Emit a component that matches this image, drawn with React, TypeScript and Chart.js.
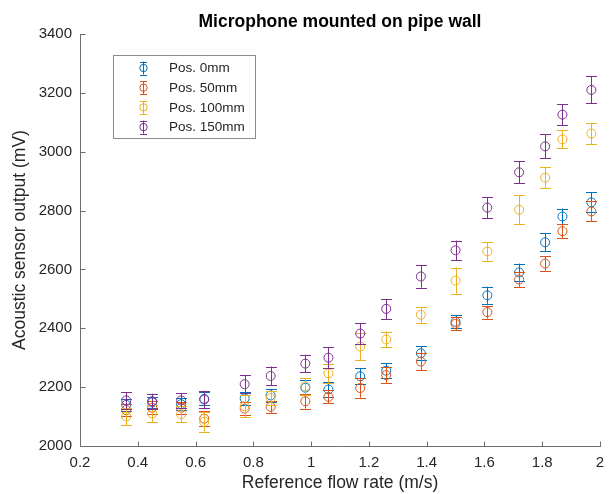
import React, { useEffect, useRef } from "react";
import { Chart, registerables } from "chart.js";

Chart.register(...registerables);

const titleText = "Microphone mounted on pipe wall";
const xLabel = "Reference flow rate (m/s)";
const yLabel = "Acoustic sensor output (mV)";

const seriesNames = ["Pos. 0mm", "Pos. 50mm", "Pos. 100mm", "Pos. 150mm"];
const seriesColors = ["#0072BD", "#D95319", "#EDB120", "#7E2F8E"];

const flowRate = [0.36, 0.45, 0.55, 0.63, 0.77, 0.86, 0.98, 1.06, 1.17, 1.26, 1.38, 1.5, 1.61, 1.72, 1.81, 1.87, 1.97];

const pos0 = [2140, 2148, 2142, 2160, 2162, 2172, 2198, 2192, 2237, 2256, 2315, 2422, 2512, 2590, 2692, 2780, 2828];
const pos50 = [2122, 2130, 2130, 2093, 2127, 2133, 2152, 2167, 2197, 2241, 2287, 2415, 2455, 2566, 2620, 2730, 2797];
const pos100 = [2100, 2110, 2108, 2082, 2135, 2163, 2203, 2247, 2338, 2362, 2446, 2562, 2661, 2803, 2912, 3042, 3062];
const pos150 = [2155, 2152, 2155, 2158, 2210, 2238, 2280, 2300, 2382, 2466, 2576, 2665, 2810, 2930, 3018, 3126, 3210];

const err0 = [20, 20, 20, 22, 22, 22, 25, 25, 28, 26, 24, 22, 29, 30, 31, 27, 34];
const err50 = [20, 22, 20, 25, 22, 20, 25, 22, 33, 26, 30, 22, 22, 25, 24, 24, 34];
const err100 = [30, 30, 28, 33, 38, 25, 28, 32, 45, 27, 27, 44, 31, 49, 35, 31, 36];
const err150 = [28, 26, 25, 30, 30, 32, 30, 36, 36, 34, 38, 33, 36, 37, 41, 36, 46];

const xTicks = [0.2, 0.4, 0.6, 0.8, 1, 1.2, 1.4, 1.6, 1.8, 2];
const yTicks = [2000, 2200, 2400, 2600, 2800, 3000, 3200, 3400];

const FONT = "'Liberation Sans', Arial, Helvetica, sans-serif";
const TEXT = "#262626";
const AXIS = "#6e6e6e";

const seriesValues = [pos0, pos50, pos100, pos150];
const seriesErrors = [err0, err50, err100, err150];

const errorBarPlugin = {
  id: "errorBars",
  afterDatasetDraw(chart: any, args: any) {
    const ds = chart.data.datasets[args.index];
    const errs: number[] = ds.errors;
    if (!errs) return;
    const ys = chart.scales.y;
    const ctx = chart.ctx;
    ctx.save();
    ctx.strokeStyle = ds.borderColor;
    ctx.lineWidth = 1;
    const cap = 5.5;
    args.meta.data.forEach((pt: any, i: number) => {
      const v = ds.data[i].y;
      const top = ys.getPixelForValue(v + errs[i]);
      const bot = ys.getPixelForValue(v - errs[i]);
      const x = Math.round(pt.x) + 0.5;
      ctx.beginPath();
      ctx.moveTo(x, top);
      ctx.lineTo(x, bot);
      ctx.moveTo(x - cap, Math.round(top) + 0.5);
      ctx.lineTo(x + cap, Math.round(top) + 0.5);
      ctx.moveTo(x - cap, Math.round(bot) + 0.5);
      ctx.lineTo(x + cap, Math.round(bot) + 0.5);
      ctx.stroke();
    });
    ctx.restore();
  },
};

const axesPlugin = {
  id: "matlabAxes",
  beforeDatasetsDraw(chart: any) {
    const { ctx, chartArea } = chart;
    const xs = chart.scales.x;
    const ys = chart.scales.y;
    const left = Math.round(chartArea.left) + 0.5;
    const bottom = Math.round(chartArea.bottom) + 0.5;
    ctx.save();
    ctx.strokeStyle = AXIS;
    ctx.lineWidth = 1;
    ctx.beginPath();
    ctx.moveTo(left, Math.round(chartArea.top));
    ctx.lineTo(left, bottom);
    ctx.lineTo(Math.round(chartArea.right) + 1, bottom);
    const tl = 5;
    xs.ticks.forEach((t: any) => {
      const px = Math.round(xs.getPixelForValue(t.value)) + 0.5;
      ctx.moveTo(px, bottom);
      ctx.lineTo(px, bottom - tl);
    });
    ys.ticks.forEach((t: any) => {
      const py = Math.round(ys.getPixelForValue(t.value)) + 0.5;
      ctx.moveTo(left, py);
      ctx.lineTo(left + tl, py);
    });
    ctx.stroke();
    // title centred over the plot area
    ctx.fillStyle = "#000000";
    ctx.font = `bold 17.5px ${FONT}`;
    ctx.textAlign = "center";
    ctx.textBaseline = "alphabetic";
    ctx.fillText(titleText, (chartArea.left + chartArea.right) / 2, 27);
    ctx.restore();
  },
};

const legendPlugin = {
  id: "boxLegend",
  afterDraw(chart: any) {
    const ctx = chart.ctx;
    const bx = 113.5, by = 55.5, bw = 142, bh = 83;
    ctx.save();
    ctx.fillStyle = "#ffffff";
    ctx.fillRect(bx, by, bw, bh);
    ctx.strokeStyle = "#8c8c8c";
    ctx.lineWidth = 1;
    ctx.strokeRect(bx, by, bw, bh);
    ctx.font = `13.5px ${FONT}`;
    ctx.textBaseline = "middle";
    ctx.textAlign = "left";
    seriesNames.forEach((name, i) => {
      const cy = 68 + i * 19.7;
      const sx = 143.5;
      ctx.strokeStyle = seriesColors[i];
      ctx.beginPath();
      ctx.moveTo(sx, cy - 6.5);
      ctx.lineTo(sx, cy + 6.5);
      ctx.moveTo(sx - 3.5, Math.round(cy - 6.5) + 0.5);
      ctx.lineTo(sx + 3.5, Math.round(cy - 6.5) + 0.5);
      ctx.moveTo(sx - 3.5, Math.round(cy + 6.5) + 0.5);
      ctx.lineTo(sx + 3.5, Math.round(cy + 6.5) + 0.5);
      ctx.stroke();
      ctx.beginPath();
      ctx.arc(sx, cy, 3.7, 0, Math.PI * 2);
      ctx.stroke();
      ctx.fillStyle = TEXT;
      ctx.fillText(name, 169, cy + 0.5);
    });
    ctx.restore();
  },
};

export default function App() {
  const canvasRef = useRef<HTMLCanvasElement | null>(null);

  useEffect(() => {
    if (!canvasRef.current) return;
    const datasets = seriesNames.map((name, si) => ({
      label: name,
      data: flowRate.map((x, i) => ({ x, y: seriesValues[si][i] })),
      errors: seriesErrors[si],
      borderColor: seriesColors[si],
      backgroundColor: "rgba(0,0,0,0)",
      pointRadius: 4.5,
      pointBorderWidth: 1,
      pointStyle: "circle",
      showLine: false,
      order: 3 - si,
    }));

    const chart = new Chart(canvasRef.current, {
      type: "scatter",
      data: { datasets } as any,
      plugins: [axesPlugin, errorBarPlugin, legendPlugin],
      options: {
        animation: false,
        responsive: false,
        devicePixelRatio: 1,
        layout: { padding: { left: 0, right: 13, top: 34, bottom: 0 } },
        plugins: {
          legend: { display: false },
          tooltip: { enabled: false },
          title: { display: false },
        },
        scales: {
          x: {
            type: "linear",
            min: 0.2,
            max: 2,
            afterBuildTicks: (scale: any) => {
              scale.ticks = xTicks.map((v) => ({ value: v }));
            },
            afterFit: (scale: any) => {
              scale.height = 48;
            },
            grid: { display: false, drawTicks: false },
            border: { display: false },
            ticks: {
              color: TEXT,
              font: { family: FONT, size: 15 },
              padding: 8,
              maxRotation: 0,
              autoSkip: false,
              callback: (v: any) => String(Number(Number(v).toFixed(1))),
            },
            title: {
              display: true,
              text: xLabel,
              color: TEXT,
              font: { family: FONT, size: 17.5, lineHeight: 1.2 },
              padding: { top: 0, bottom: 0.5 },
            },
          },
          y: {
            type: "linear",
            min: 2000,
            max: 3400,
            afterBuildTicks: (scale: any) => {
              scale.ticks = yTicks.map((v) => ({ value: v }));
            },
            afterFit: (scale: any) => {
              scale.width = 80;
            },
            grid: { display: false, drawTicks: false },
            border: { display: false },
            ticks: {
              color: TEXT,
              font: { family: FONT, size: 15 },
              padding: 8,
              autoSkip: false,
              callback: (v: any) => String(v),
            },
            title: {
              display: true,
              text: yLabel,
              color: TEXT,
              font: { family: FONT, size: 17.5, lineHeight: 1.2 },
              padding: { top: 10, bottom: 0 },
            },
          },
        },
      } as any,
    });
    return () => chart.destroy();
  }, []);

  return (
    <div style={{ position: "fixed", left: 0, top: 0, width: 613, height: 494, background: "#ffffff" }}>
      <canvas ref={canvasRef} width={613} height={494} style={{ display: "block", width: 613, height: 494 }} />
    </div>
  );
}
